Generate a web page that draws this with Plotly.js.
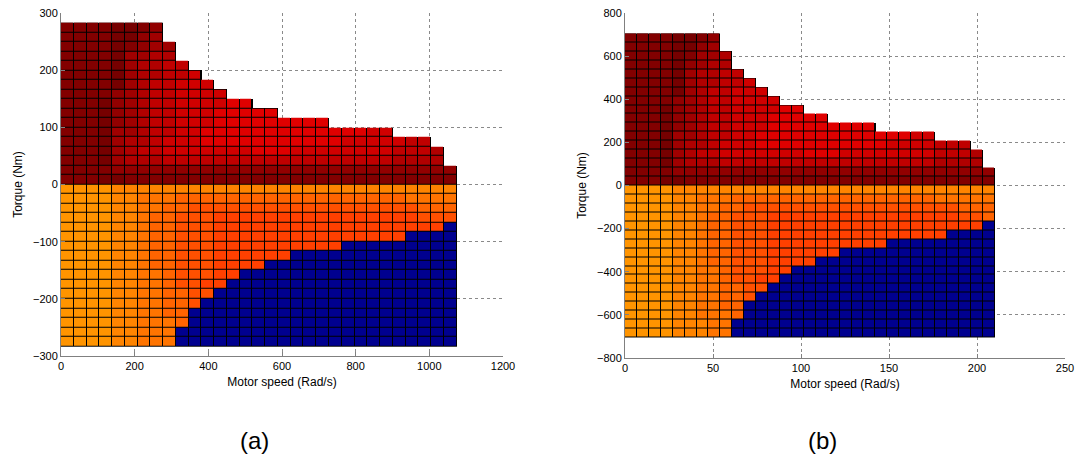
<!DOCTYPE html>
<html>
<head>
<meta charset="utf-8">
<script src="https://cdn.plot.ly/plotly-3.0.1.min.js"></script>
<style>
html,body{margin:0;padding:0;background:#fff;}
#chart{width:1079px;height:461px;}
</style>
</head>
<body>
<div id="chart"></div>
<script>
// ---- colour levels (cell code -> colour) ----
const levelCodes = ['0','1','2','3','4','5','6','7','8','9','a','b','c','d','e'];
const levelColors = ['#00008f','#ff9400','#ff8400','#ff7400','#ff6400','#ff5000','#ff4000',
                     '#df0000','#d00000','#c00000','#b00000','#a00000','#920000','#820000','#760000'];

// ---- panel (a) grid ----
const speedMaxA = 1074;   // rad/s, 31 speed cells
const torqueMaxA = 283;   // Nm, 17 torque cells each side
const xTicksA = [0, 200, 400, 600, 800, 1000, 1200];
const yTicksA = [-300, -200, -100, 0, 100, 200, 300];

// motoring cells, top row (max torque) to the row just above 0 Nm
const motorA = [
  "dddde edc",
  "dddde ecb",
  "dddde dcbb",
  "dddde bbaa",
  "dddde baa99",
  "dddde baa99 8",
  "dddde ba998 88",
  "ddddc ba998 888",
  "dddec ba998 88877",
  "dddec ba998 88777 77",
  "dddec ba998 88777 77777 7",
  "dddeb ba998 87777 77777 77778 8",
  "dddeb aa988 87777 77777 77888 8899",
  "dddeb a9988 88888 77788 88888 8999a",
  "dddeb aaa99 99999 99999 99999 9aaaa",
  "ddddc ccccc ccccc ccccc ccccc ccccc c",
  "dddee ddddd ddddd ddddd ddddd ddddd d"
];
// generating cells, row just below 0 Nm to min torque
const genA = [
  "11112 22222 22222 22222 22222 22222 2",
  "11112 23334 44444 44444 44444 44333 3",
  "11112 23344 55555 55555 55555 55544 4",
  "11112 23445 55666 66666 66666 66655 5",
  "11112 23445 55666 66666 66666 66666 0",
  "11112 23445 55666 66666 66666 66000 0",
  "11112 23445 55666 66666 66000 00000 0",
  "11112 23445 55666 66600 00000 00000 0",
  "11112 23445 55666 60000 00000 00000 0",
  "11112 23345 55660 00000 00000 00000 0",
  "11112 23345 56600 00000 00000 00000 0",
  "11112 23344 55000 00000 00000 00000 0",
  "11112 23344 50000 00000 00000 00000 0",
  "11112 23344 00000 00000 00000 00000 0",
  "11112 23334 00000 00000 00000 00000 0",
  "11112 23330 00000 00000 00000 00000 0",
  "11112 23330 00000 00000 00000 00000 0"
];

// ---- panel (b) grid ----
const speedMaxB = 210;
const torqueMaxB = 705;
const xTicksB = [0, 50, 100, 150, 200, 250];
const yTicksB = [-800, -600, -400, -200, 0, 200, 400, 600, 800];

const motorB = [
  "dddde edc",
  "dddde ecb",
  "dddde dbba",
  "dddde cbaa",
  "dddde baa99",
  "dddde baa99 8",
  "dddde ba998 88",
  "ddddc ba998 888",
  "dddec ba998 88877",
  "dddec ba998 88777 77",
  "dddec ba998 88777 77777 7",
  "dddeb ba998 87777 77777 77778 8",
  "dddeb aa988 87777 77777 77888 8999",
  "dddeb a9988 88888 77788 88888 8999a",
  "dddeb aaa99 99999 99999 99999 9aaaa",
  "ddddc ccccc ccccc ccccc ccccc ccccc c",
  "dddee ddddd ddddd ddddd ddddd ddddd d"
];
const genB = [
  "11112 22222 22222 22222 22222 22222 2",
  "11112 23334 44444 44444 44444 43333 3",
  "11112 23344 55555 55555 55555 55544 4",
  "11112 23445 55666 66666 66666 66655 4",
  "11112 23445 55666 66666 66666 66666 0",
  "11112 23445 55666 66666 66666 66000 0",
  "11112 23445 55666 66666 66000 00000 0",
  "11112 23445 55666 66600 00000 00000 0",
  "11112 23445 55666 60000 00000 00000 0",
  "11112 23345 55660 00000 00000 00000 0",
  "11112 23345 56600 00000 00000 00000 0",
  "11112 23344 55000 00000 00000 00000 0",
  "11112 23344 50000 00000 00000 00000 0",
  "11112 23344 00000 00000 00000 00000 0",
  "11112 23334 00000 00000 00000 00000 0",
  "11112 22330 00000 00000 00000 00000 0",
  "11112 22330 00000 00000 00000 00000 0"
];

// ---------------- build traces ----------------
const NCOL = 31;
function edges(max, n, symmetric) {
  const out = [];
  const step = max / n;
  const start = symmetric ? -max : 0;
  const count = symmetric ? 2 * n : n;
  for (let i = 0; i <= count; i++) out.push(start + i * step);
  return out;
}
function parseRows(motor, gen) {
  const rowsTopDown = motor.concat(gen);
  const z = [], mask = [];
  rowsTopDown.slice().reverse().forEach(s => {
    const codes = s.replace(/\s+/g, '');
    const zr = [], mr = [];
    for (let c = 0; c < NCOL; c++) {
      if (c < codes.length) { zr.push(levelCodes.indexOf(codes[c])); mr.push(1); }
      else { zr.push(null); mr.push(null); }
    }
    z.push(zr); mask.push(mr);
  });
  return {z, mask};
}
const nLev = levelColors.length;
const stepScale = [];
levelColors.forEach((col, i) => { stepScale.push([i / nLev, col]); stepScale.push([(i + 1) / nLev, col]); });

function panelTraces(motor, gen, sMax, tMax, xa, ya) {
  const {z, mask} = parseRows(motor, gen);
  const x = edges(sMax, NCOL, false);
  const y = edges(tMax, motor.length, true);
  return [
    {type: 'heatmap', x: x, y: y, z: mask, xaxis: xa, yaxis: ya,
     colorscale: [[0, '#000'], [1, '#000']], zmin: 0, zmax: 1, showscale: false, hoverinfo: 'skip'},
    {type: 'heatmap', x: x, y: y, z: z, xaxis: xa, yaxis: ya,
     colorscale: stepScale, zmin: -0.5, zmax: nLev - 0.5, showscale: false,
     xgap: 1, ygap: 1, hoverinfo: 'skip'}
  ];
}

const traces = panelTraces(motorA, genA, speedMaxA, torqueMaxA, 'x', 'y')
  .concat(panelTraces(motorB, genB, speedMaxB, torqueMaxB, 'x2', 'y2'));

const FONT = 'Liberation Sans, Arial, sans-serif';
function axis(extra) {
  return Object.assign({
    showgrid: true, gridcolor: '#8a8a8a', griddash: 'dot', gridwidth: 1,
    showline: true, linecolor: '#808080', linewidth: 1, mirror: false,
    ticks: 'inside', ticklen: 4, tickcolor: '#808080',
    zeroline: false, fixedrange: true,
    tickfont: {family: FONT, size: 11, color: '#000'}
  }, extra);
}

const layout = {
  width: 1079, height: 461,
  margin: {l: 0, r: 0, t: 0, b: 0},
  paper_bgcolor: '#fff', plot_bgcolor: '#fff',
  showlegend: false,
  font: {family: FONT, color: '#000'},
  xaxis: axis({domain: [61/1079, 503/1079], range: [0, 1200], tickvals: xTicksA, anchor: 'y',
    title: {text: 'Motor speed (Rad/s)', font: {family: FONT, size: 12}, standoff: 6}}),
  yaxis: axis({domain: [(461-356)/461, (461-13)/461], range: [-300, 300], tickvals: yTicksA, anchor: 'x',
    title: {text: 'Torque (Nm)', font: {family: FONT, size: 12}, standoff: 7}}),
  xaxis2: axis({domain: [625/1079, 1065/1079], range: [0, 250], tickvals: xTicksB, anchor: 'y2',
    title: {text: 'Motor speed (Rad/s)', font: {family: FONT, size: 12}, standoff: 6}}),
  yaxis2: axis({domain: [(461-358)/461, (461-13)/461], range: [-800, 800], tickvals: yTicksB, anchor: 'x2',
    title: {text: 'Torque (Nm)', font: {family: FONT, size: 12}, standoff: 7}}),
  annotations: [
    {text: '(a)', xref: 'paper', yref: 'paper', x: 254/1079, y: (461-440)/461,
     xanchor: 'center', yanchor: 'middle',
     showarrow: false, font: {family: FONT, size: 24, color: '#000'}},
    {text: '(b)', xref: 'paper', yref: 'paper', x: 822/1079, y: (461-440)/461,
     xanchor: 'center', yanchor: 'middle',
     showarrow: false, font: {family: FONT, size: 24, color: '#000'}}
  ]
};

Plotly.newPlot('chart', traces, layout, {staticPlot: true, displayModeBar: false});
</script>
</body>
</html>
